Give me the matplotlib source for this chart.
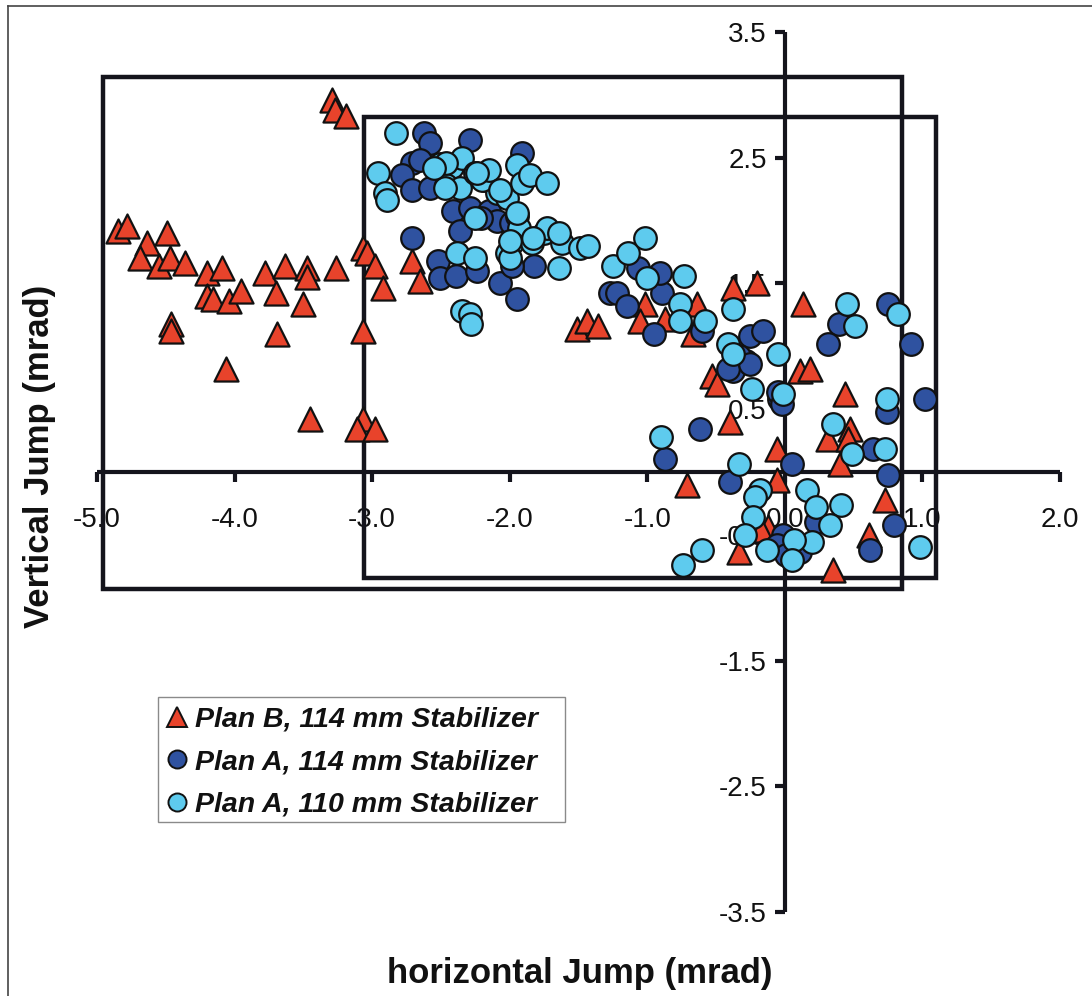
import matplotlib
matplotlib.use("Agg")
import matplotlib.pyplot as plt
from matplotlib.lines import Line2D
from matplotlib.patches import Rectangle

# ---------------- data ----------------
planB_114_x = [-3.29, -3.27, -3.19, -4.85, -4.78, -4.64, -4.49, -4.69, -4.55, -4.47,
               -4.36, -4.20, -4.09, -4.20, -4.16, -4.04, -3.95, -3.78, -3.63, -3.47,
               -3.47, -3.70, -3.50, -3.26, -4.46, -4.46, -3.69, -4.06, -3.45, -3.07,
               -3.07, -3.04, -2.98, -2.92, -3.07, -3.11, -2.98, -2.71, -2.65, -1.51,
               -1.44, -1.36, -1.02, -1.05, -0.87, -0.64, -0.67, -0.38, -0.20, 0.13,
               -0.53, -0.49, 0.11, 0.18, 0.44, -0.40, 0.47, 0.31, 0.46, 0.40,
               -0.06, -0.06, -0.71, 0.73, -0.12, -0.17, -0.33, 0.61, 0.35]
planB_114_y = [2.96, 2.88, 2.83, 1.92, 1.96, 1.82, 1.90, 1.70, 1.64, 1.70,
               1.66, 1.58, 1.62, 1.40, 1.38, 1.36, 1.44, 1.58, 1.64, 1.62,
               1.55, 1.42, 1.34, 1.62, 1.18, 1.12, 1.10, 0.82, 0.42, 1.12,
               1.78, 1.74, 1.64, 1.46, 0.42, 0.34, 0.34, 1.68, 1.52, 1.14,
               1.20, 1.16, 1.34, 1.20, 1.22, 1.34, 1.10, 1.46, 1.50, 1.34,
               0.76, 0.70, 0.80, 0.82, 0.62, 0.40, 0.34, 0.26, 0.26, 0.06,
               0.18, -0.06, -0.10, -0.22, -0.44, -0.46, -0.64, -0.50, -0.78]

planA_114_x = [-2.62, -2.58, -2.29, -1.91, -2.71, -2.78, -2.71, -2.58, -2.65, -2.41,
               -2.29, -2.15, -2.36, -2.09, -2.71, -2.52, -2.51, -2.39, -2.24, -2.07,
               -1.95, -1.82, -1.98, -2.21, -1.99, -1.27, -1.22, -1.15, -0.95, -0.89,
               -1.07, -0.91, -0.60, -0.25, -0.16, -0.28, -0.38, -0.04, -0.33, -0.41,
               -0.25, -0.05, -0.02, 0.75, 0.39, 0.31, 0.92, 1.02, 0.74, -0.62,
               -0.87, 0.64, 0.05, 0.75, -0.40, 0.79, 0.62, -0.01, -0.06, 0.01,
               0.11, 0.23]
planA_114_y = [2.70, 2.62, 2.64, 2.54, 2.46, 2.36, 2.24, 2.26, 2.48, 2.08,
               2.10, 2.08, 1.92, 2.00, 1.86, 1.68, 1.54, 1.56, 1.60, 1.50,
               1.38, 1.64, 1.64, 2.02, 1.98, 1.42, 1.42, 1.32, 1.10, 1.42,
               1.62, 1.58, 1.12, 1.08, 1.12, 0.88, 0.80, 0.58, 0.92, 0.82,
               0.86, 0.64, 0.54, 1.34, 1.18, 1.02, 1.02, 0.58, 0.48, 0.34,
               0.10, 0.18, 0.06, -0.02, -0.08, -0.42, -0.62, -0.50, -0.58, -0.66,
               -0.64, -0.40]

planA_110_x = [-2.83, -2.96, -2.91, -2.89, -2.51, -2.42, -2.35, -2.46, -2.36, -2.25,
               -2.18, -2.09, -2.02, -1.95, -1.91, -1.85, -1.73, -2.25, -1.95, -1.93,
               -2.38, -2.25, -1.98, -1.84, -1.75, -1.62, -1.49, -1.43, -1.64, -2.02,
               -2.00, -2.35, -2.29, -2.28, -1.25, -1.14, -1.02, -1.00, -0.73, -0.76,
               -0.76, -0.58, -0.38, -0.41, -0.38, -0.05, -0.24, -0.01, 0.45, 0.51,
               0.82, 0.74, 0.35, 0.73, 0.49, -0.90, -0.33, 0.16, -0.18, -0.22,
               0.23, 0.41, 0.33, 0.20, -0.23, -0.29, -0.13, 0.07, 0.05, 0.98,
               -0.60, -0.74, -2.46, -2.47, -2.20, -2.15, -2.07, -1.95, -1.73, -1.64,
               -2.00, -1.83, -2.24, -2.55]
planA_110_y = [2.70, 2.38, 2.22, 2.16, 2.45, 2.43, 2.50, 2.28, 2.26, 2.38,
               2.32, 2.22, 2.18, 2.44, 2.30, 2.36, 2.30, 2.02, 2.04, 1.94,
               1.74, 1.70, 1.82, 1.82, 1.90, 1.82, 1.78, 1.80, 1.62, 1.74,
               1.70, 1.28, 1.26, 1.18, 1.64, 1.74, 1.86, 1.54, 1.56, 1.34,
               1.20, 1.20, 1.30, 1.02, 0.94, 0.94, 0.66, 0.62, 1.34, 1.16,
               1.26, 0.58, 0.38, 0.18, 0.14, 0.28, 0.06, -0.14, -0.14, -0.20,
               -0.28, -0.26, -0.42, -0.56, -0.36, -0.50, -0.62, -0.54, -0.70, -0.60,
               -0.62, -0.74, 2.46, 2.26, 2.32, 2.40, 2.24, 2.06, 1.94, 1.90,
               1.84, 1.86, 2.38, 2.42]

labels = ["Plan B, 114 mm Stabilizer", "Plan A, 114 mm Stabilizer", "Plan A, 110 mm Stabilizer"]

x_ticks = [-5.0, -4.0, -3.0, -2.0, -1.0, 0.0, 1.0, 2.0]
x_ticklabels = ["-5.0", "-4.0", "-3.0", "-2.0", "-1.0", "0.0", "1.0", "2.0"]
y_ticks = [3.5, 2.5, 1.5, 0.5, -0.5, -1.5, -2.5, -3.5]
y_ticklabels = ["3.5", "2.5", "1.5", "0.5", "-0.5", "-1.5", "-2.5", "-3.5"]

# frames (x0, y0, x1, y1) in data units
box_outer = (-4.96, -0.93, 0.85, 3.14)
box_inner = (-3.06, -0.84, 1.10, 2.82)

# ---------------- style ----------------
RED = "#E8432B"
DARK = "#2F52A0"
LIGHT = "#5ECBEE"
EDGE = "#111111"
LINE = "#14141c"
FONT = "Liberation Sans"

plt.rcParams['font.family'] = [FONT, 'DejaVu Sans']

W, H = 1092, 996
fig = plt.figure(figsize=(W / 100, H / 100), dpi=100)
ax = fig.add_axes([97 / W, (H - 912) / H, (1060 - 97) / W, (912 - 32) / H])
ax.set_xlim(-5, 2)
ax.set_ylim(-3.5, 3.5)

for s in ["top", "right"]:
    ax.spines[s].set_visible(False)
ax.spines["left"].set_position(("data", 0))
ax.spines["bottom"].set_position(("data", 0))
for s in ["left", "bottom"]:
    ax.spines[s].set_linewidth(3)
    ax.spines[s].set_color(LINE)
    ax.spines[s].set_capstyle("butt")

ax.set_xticks(x_ticks)
ax.set_xticklabels(x_ticklabels)
ax.set_yticks(y_ticks)
ax.set_yticklabels(y_ticklabels)
ax.tick_params(axis="x", direction="out", length=7, width=3, color=LINE,
               labelsize=20, pad=18, labelcolor="#111111")
ax.tick_params(axis="y", direction="out", length=7, width=3, color=LINE,
               labelsize=20, pad=6, labelcolor="#111111")

for (x0, y0, x1, y1) in (box_outer, box_inner):
    ax.add_patch(Rectangle((x0, y0), x1 - x0, y1 - y0, fill=False,
                           edgecolor=LINE, linewidth=3.2, zorder=2))

sc_kw = dict(edgecolors=EDGE, linewidths=1.6, zorder=3, clip_on=False)
ax.scatter(planB_114_x, planB_114_y, marker="^", s=300, c=RED, **sc_kw)
ax.scatter(planA_114_x, planA_114_y, marker="o", s=265, c=DARK, **sc_kw)
ax.scatter(planA_110_x, planA_110_y, marker="o", s=265, c=LIGHT, **sc_kw)

fig.text(580 / W, 1 - 973 / H, "horizontal Jump (mrad)", fontsize=25,
         fontweight="bold", ha="center", va="center", color="#111111")
fig.text(40 / W, 1 - 456 / H, "Vertical Jump (mrad)", fontsize=25,
         fontweight="bold", ha="center", va="center", rotation=90, color="#111111")

# legend frame drawn explicitly
fig.add_artist(Rectangle((158 / W, 1 - 822 / H), (565 - 158) / W, (822 - 697) / H,
                         transform=fig.transFigure, fill=True, facecolor="white",
                         edgecolor="#8a8a8a", linewidth=1.0, zorder=4))

handles = [
    Line2D([], [], marker="^", linestyle="none", markersize=14, markerfacecolor=RED,
           markeredgecolor=EDGE, markeredgewidth=1.4),
    Line2D([], [], marker="o", linestyle="none", markersize=13, markerfacecolor=DARK,
           markeredgecolor=EDGE, markeredgewidth=1.4),
    Line2D([], [], marker="o", linestyle="none", markersize=13, markerfacecolor=LIGHT,
           markeredgecolor=EDGE, markeredgewidth=1.4),
]
leg = fig.legend(handles, labels, loc="upper left",
                 bbox_to_anchor=(158 / W, 1 - 698 / H), bbox_transform=fig.transFigure,
                 borderaxespad=0, frameon=False, borderpad=0.3,
                 handlelength=0.7, handletextpad=0.3, labelspacing=0.58,
                 prop=dict(family=FONT, size=20.5, weight="bold", style="italic"))
leg.set_zorder(5)
for t in leg.get_texts():
    t.set_color("#111111")

# outer image border (left and top edges)
fig.add_artist(Line2D([7.5 / W, 7.5 / W], [0, 1 - 6 / H], transform=fig.transFigure,
                      color="#444444", linewidth=1.2))
fig.add_artist(Line2D([7.5 / W, 1], [1 - 6 / H, 1 - 6 / H], transform=fig.transFigure,
                      color="#444444", linewidth=1.2))

fig.savefig("out.png", dpi=100, facecolor="white")
